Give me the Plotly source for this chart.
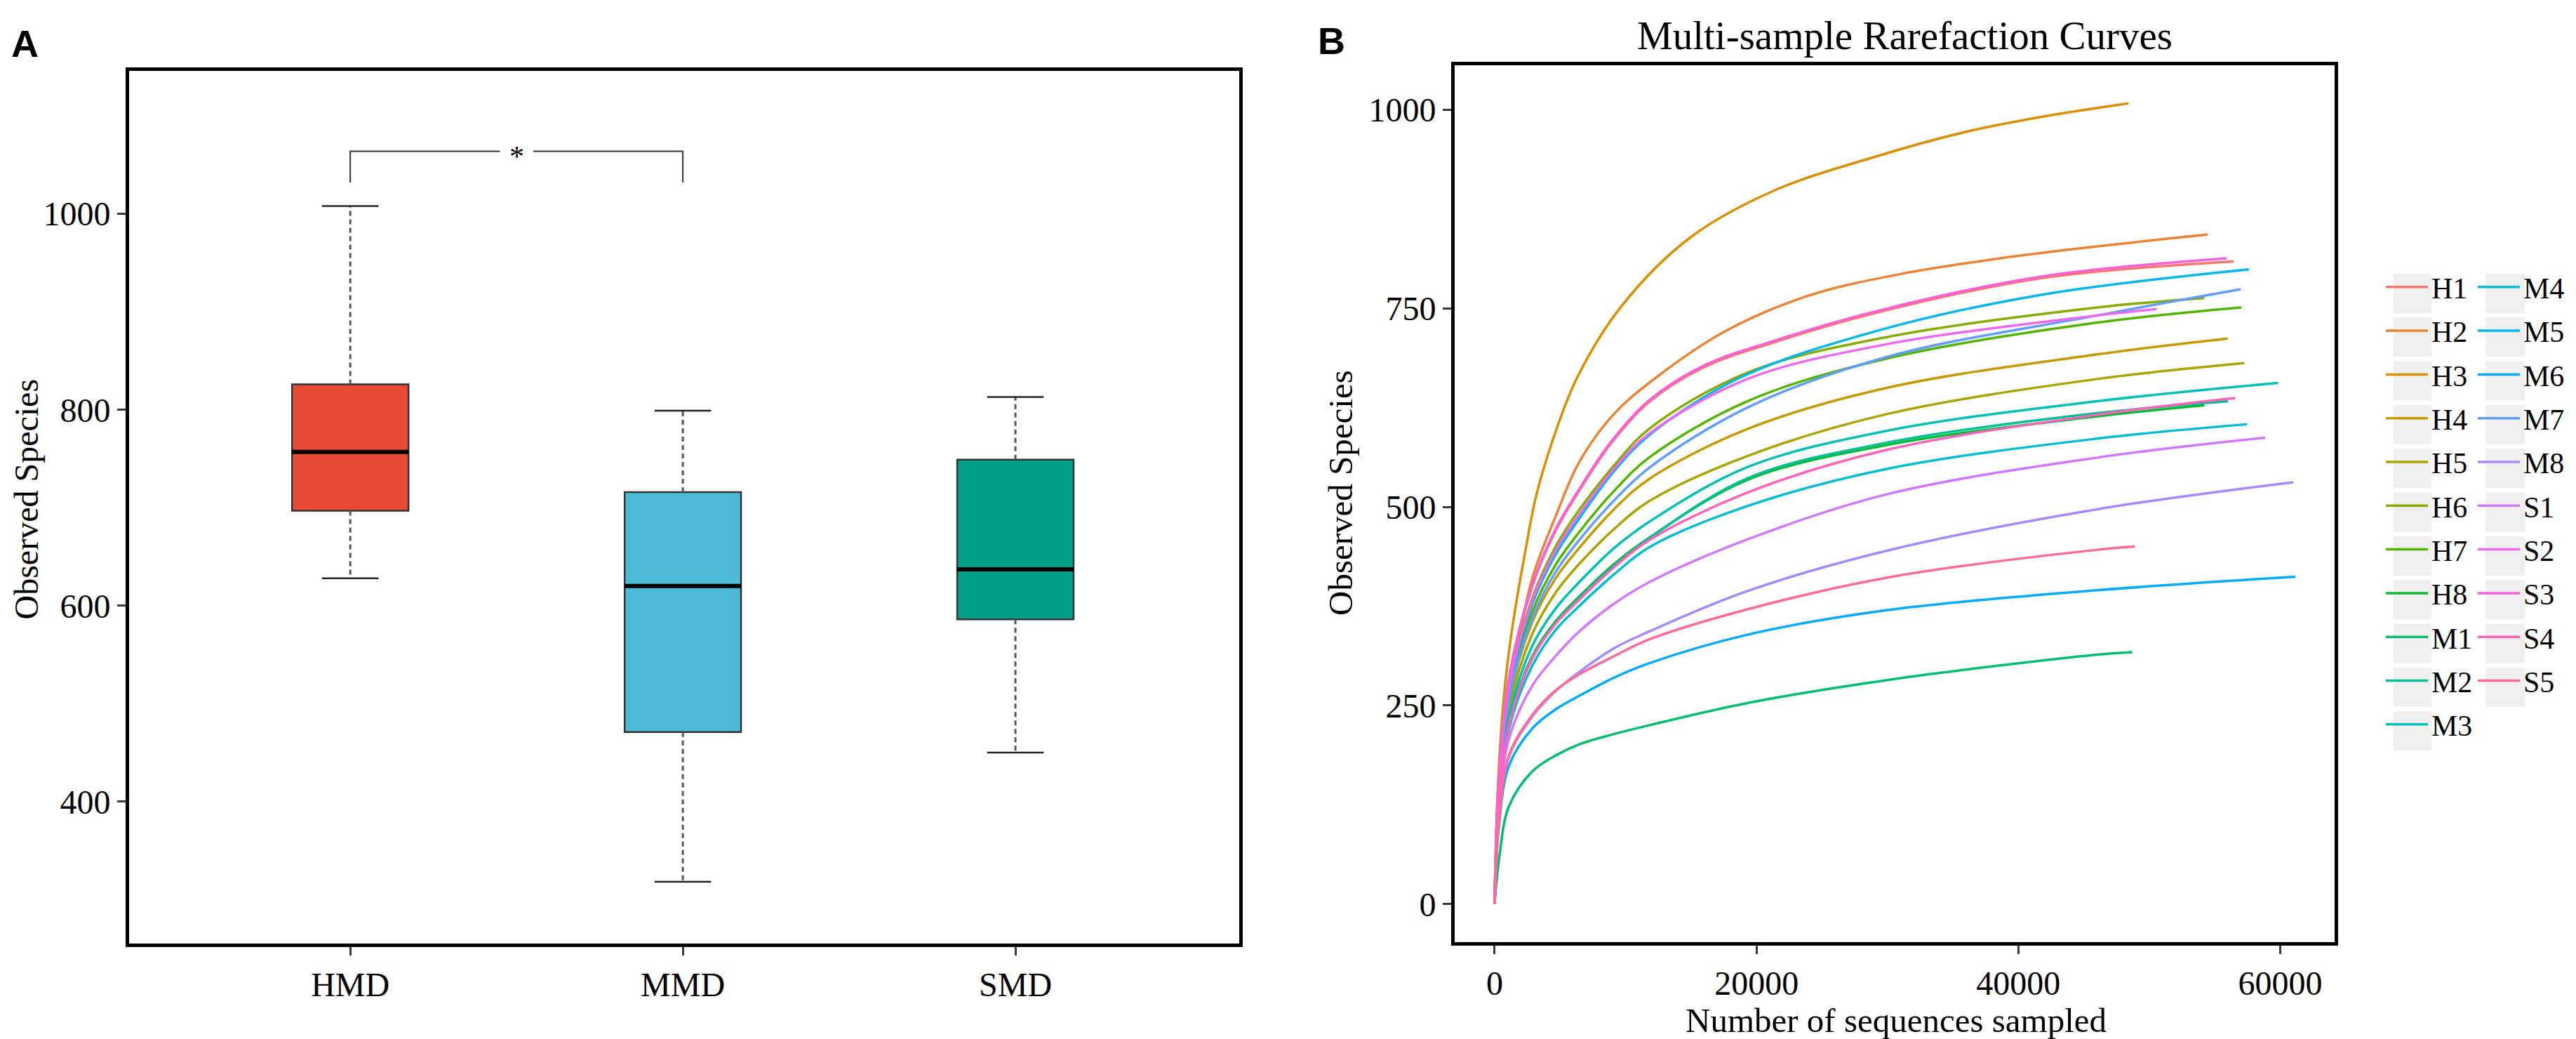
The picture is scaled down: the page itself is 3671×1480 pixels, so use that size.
import math
import plotly.graph_objects as go

# ---------------- Panel A data (box plot summary statistics) ----------------
groups = ["HMD", "MMD", "SMD"]
box_lower = [628, 318, 450]
box_q1 = [697, 471, 586]
box_median = [757, 620, 637]
box_q3 = [826, 716, 749]
box_upper = [1008, 799, 813]
box_colors = ["#E64B35", "#4DBBD5", "#00A087"]
sig_groups = [0, 1]
sig_level = 1064
sig_drop = 1032
sig_label = "*"

# ---------------- Panel B data (rarefaction curves) ----------------
samples = ["H1", "H2", "H3", "H4", "H5", "H6", "H7", "H8",
           "M1", "M2", "M3", "M4", "M5", "M6", "M7", "M8",
           "S1", "S2", "S3", "S4", "S5"]

H1_x = [0, 300, 1096, 2880, 4660, 6450, 8800, 11790, 16000, 21310, 29290, 41745, 56440]
H1_y = [0, 150, 282, 400, 470, 520, 578, 632, 676, 707, 745, 788, 809]
H2_x = [0, 300, 800, 1500, 2877, 4660, 6450, 9120, 12265, 17587, 23972, 30625, 38607, 46016, 54460]
H2_y = [0, 110, 215, 300, 410, 488, 556, 617, 662, 721, 766, 792, 813, 828, 843]
H3_x = [0, 230, 650, 1096, 1631, 2344, 3146, 4417, 6280, 9605, 14927, 21310, 29290, 35945, 41745, 48400]
H3_y = [0, 140, 250, 318, 377, 444, 512, 583, 662, 751, 839, 898, 942, 972, 991, 1008]
H4_x = [0, 300, 1096, 2880, 4660, 6450, 9120, 11790, 19300, 30000, 46016, 55990]
H4_y = [0, 130, 255, 355, 410, 448, 497, 535, 598, 650, 692, 712]
H5_x = [0, 300, 1096, 2880, 4660, 6450, 9120, 11790, 19300, 30000, 46016, 57240]
H5_y = [0, 122, 245, 340, 392, 428, 472, 507, 564, 617, 661, 681]
H6_x = [0, 300, 1096, 2880, 4660, 6450, 9120, 11790, 19300, 30000, 46016, 54210]
H6_y = [0, 140, 275, 385, 450, 496, 552, 598, 669, 714, 751, 763]
H7_x = [0, 300, 1096, 2880, 4660, 6450, 9120, 11790, 19300, 30000, 46016, 57030]
H7_y = [0, 134, 262, 368, 427, 468, 520, 562, 633, 687, 732, 751]
H8_x = [0, 300, 1096, 2880, 4660, 6450, 9120, 11790, 19300, 30000, 46016, 54210]
H8_y = [0, 115, 228, 312, 356, 387, 428, 461, 534, 578, 614, 628]
M1_x = [0, 382, 1096, 2880, 4660, 6450, 9120, 11790, 19300, 30000, 46016, 48690]
M1_y = [0, 62, 123, 167, 187, 201, 214, 225, 253, 282, 314, 317]
M2_x = [0, 300, 1096, 2880, 4660, 6450, 9120, 11790, 19300, 30000, 46016, 56000]
M2_y = [0, 114, 226, 310, 354, 385, 426, 460, 536, 581, 618, 633]
M3_x = [0, 300, 1096, 2880, 4660, 6450, 9120, 11790, 19300, 30000, 46016, 59830]
M3_y = [0, 120, 235, 325, 372, 405, 448, 481, 550, 596, 633, 656]
M4_x = [0, 300, 1096, 2880, 4660, 6450, 9120, 11790, 19300, 30000, 46016, 57460]
M4_y = [0, 112, 220, 300, 345, 375, 415, 449, 501, 548, 586, 604]
M5_x = [0, 300, 1096, 2880, 4660, 6450, 9120, 11790, 18648, 29290, 41745, 57600]
M5_y = [0, 136, 268, 378, 440, 485, 545, 590, 662, 722, 767, 799]
M6_x = [0, 300, 1096, 2880, 4660, 6450, 9120, 11790, 19300, 30000, 46016, 61160]
M6_y = [0, 92, 174, 221, 245, 262, 285, 303, 339, 370, 395, 412]
M7_x = [0, 300, 1096, 2880, 4660, 6450, 9120, 11790, 19300, 30000, 46016, 56980]
M7_y = [0, 130, 258, 360, 418, 458, 508, 549, 625, 689, 741, 774]
M8_x = [0, 300, 1096, 2880, 4660, 6450, 9120, 11790, 19300, 30000, 46016, 60990]
M8_y = [0, 96, 185, 236, 268, 292, 322, 343, 394, 445, 497, 531]
S1_x = [0, 300, 1096, 2880, 4660, 6450, 9120, 11790, 19300, 30000, 46016, 58850]
S1_y = [0, 106, 208, 275, 312, 343, 378, 405, 459, 516, 562, 587]
S2_x = [0, 300, 1096, 2880, 4660, 6450, 9120, 11790, 19300, 30000, 46016, 50560]
S2_y = [0, 138, 272, 382, 445, 490, 548, 592, 661, 705, 741, 749]
S3_x = [0, 300, 1096, 2880, 4660, 6450, 8800, 11790, 16000, 21310, 29290, 41745, 55900]
S3_y = [0, 152, 285, 402, 472, 522, 580, 634, 678, 709, 747, 790, 813]
S4_x = [0, 300, 1096, 2880, 4660, 6450, 9120, 11790, 19300, 30000, 46016, 56560]
S4_y = [0, 114, 225, 309, 353, 383, 424, 458, 518, 572, 616, 637]
S5_x = [0, 300, 1096, 2880, 4660, 6450, 9120, 11790, 19300, 30000, 46016, 48900]
S5_y = [0, 98, 187, 238, 269, 289, 312, 333, 371, 411, 446, 450]

curve_x = [H1_x, H2_x, H3_x, H4_x, H5_x, H6_x, H7_x, H8_x, M1_x, M2_x, M3_x,
           M4_x, M5_x, M6_x, M7_x, M8_x, S1_x, S2_x, S3_x, S4_x, S5_x]
curve_y = [H1_y, H2_y, H3_y, H4_y, H5_y, H6_y, H7_y, H8_y, M1_y, M2_y, M3_y,
           M4_y, M5_y, M6_y, M7_y, M8_y, S1_y, S2_y, S3_y, S4_y, S5_y]
legend1_members = samples[:11]

boxA_yticks = [400, 600, 800, 1000]
curveB_xticks = [0, 20000, 40000, 60000]
curveB_yticks = [0, 250, 500, 750, 1000]


def hcl_hex(h, c=100.0, l=65.0):
    """ggplot2 hue palette colour (polar CIE-LUV -> sRGB, like R's hcl())."""
    hr = math.radians(h)
    U, V = c * math.cos(hr), c * math.sin(hr)
    Xn, Yn, Zn = 95.047, 100.0, 108.883
    den = Xn + 15 * Yn + 3 * Zn
    un, vn = 4 * Xn / den, 9 * Yn / den
    Y = Yn * ((l + 16) / 116) ** 3 if l > 8 else Yn * l / 903.3
    u = U / (13 * l) + un
    v = V / (13 * l) + vn
    X = 9.0 * Y * u / (4 * v)
    Z = -X / 3 - 5 * Y + 3 * Y / v
    X, Y, Z = X / 100, Y / 100, Z / 100
    rgb = [3.240479 * X - 1.537150 * Y - 0.498535 * Z,
           -0.969256 * X + 1.875992 * Y + 0.041556 * Z,
           0.055648 * X - 0.204043 * Y + 1.057311 * Z]
    out = []
    for t in rgb:
        t = 1.055 * t ** (1 / 2.4) - 0.055 if t > 0.00304 else 12.92 * t
        out.append(int(round(min(max(t, 0), 1) * 255)))
    return "#%02X%02X%02X" % tuple(out)


n = len(samples)
palette = [hcl_hex(15 + i * 360.0 / n) for i in range(n)]

W, H = 3671, 1480
SERIF = "Liberation Serif"
SANS = "Liberation Sans"


def px(x):
    return x / W


def py(y):
    return 1 - y / H


fig = go.Figure()

# ---------- Panel A ----------
cap_half = 0.085
med_half = 0.175
for i, g in enumerate(groups):
    fig.add_trace(go.Box(
        x=[i], q1=[box_q1[i]], median=[box_median[i]], q3=[box_q3[i]],
        lowerfence=[box_q1[i]], upperfence=[box_q3[i]],
        width=0.35, fillcolor=box_colors[i],
        line=dict(color="#333333", width=2.5),
        showlegend=False, hoverinfo="skip", xaxis="x", yaxis="y", name=g))
    fig.add_trace(go.Scatter(
        x=[i, i, None, i, i],
        y=[box_q3[i], box_upper[i], None, box_q1[i], box_lower[i]],
        mode="lines", line=dict(color="#555555", width=3, dash="7px,5px"),
        showlegend=False, hoverinfo="skip", xaxis="x", yaxis="y"))
    fig.add_trace(go.Scatter(
        x=[i - cap_half, i + cap_half, None, i - cap_half, i + cap_half],
        y=[box_upper[i], box_upper[i], None, box_lower[i], box_lower[i]],
        mode="lines", line=dict(color="#222222", width=2.5),
        showlegend=False, hoverinfo="skip", xaxis="x", yaxis="y"))
    fig.add_trace(go.Scatter(
        x=[i - med_half, i + med_half], y=[box_median[i], box_median[i]],
        mode="lines", line=dict(color="#000000", width=6),
        showlegend=False, hoverinfo="skip", xaxis="x", yaxis="y"))

a, b = sig_groups
mid = (a + b) / 2
fig.add_trace(go.Scatter(
    x=[a, a, mid - 0.05, None, mid + 0.05, b, b],
    y=[sig_drop, sig_level, sig_level, None, sig_level, sig_level, sig_drop],
    mode="lines", line=dict(color="#333333", width=2),
    showlegend=False, hoverinfo="skip", xaxis="x", yaxis="y"))

# ---------- Panel B ----------
for i, name in enumerate(samples):
    fig.add_trace(go.Scatter(
        x=curve_x[i], y=curve_y[i], mode="lines", name=name,
        line=dict(color=palette[i], width=3.5, shape="spline", smoothing=1.0),
        xaxis="x2", yaxis="y2", legendgroup=name,
        legend="legend" if name in legend1_members else "legend2"))

axis_common = dict(showline=True, mirror=True, linewidth=5, linecolor="black",
                   ticks="outside", ticklen=12, tickwidth=3, tickcolor="#3a3a3a",
                   showgrid=False, zeroline=False,
                   tickfont=dict(family=SERIF, size=48, color="black"))

legend_common = dict(xanchor="left", yanchor="top",
                     font=dict(family=SERIF, size=42, color="black"),
                     bgcolor="rgba(0,0,0,0)", itemwidth=60, tracegroupgap=4.7,
                     traceorder="grouped")

fig.update_layout(
    width=W, height=H,
    margin=dict(l=0, r=0, t=0, b=0),
    paper_bgcolor="white", plot_bgcolor="white",
    boxmode="overlay",
    xaxis=dict(domain=[px(176), px(1758)], range=[-0.665, 2.673],
               tickvals=list(range(len(groups))), ticktext=groups, anchor="y",
               **axis_common),
    yaxis=dict(domain=[py(1336), py(93)], range=[255, 1146],
               tickvals=boxA_yticks, anchor="x", **axis_common),
    xaxis2=dict(domain=[px(2065), px(3319)], range=[-3050, 64150],
                tickvals=curveB_xticks, tickformat="d", anchor="y2",
                **axis_common),
    yaxis2=dict(domain=[py(1334), py(85)], range=[-48, 1056],
                tickvals=curveB_yticks, anchor="x2", **axis_common),
    legend=dict(x=px(3387), y=py(367), **legend_common),
    legend2=dict(x=px(3518), y=py(367), **legend_common),
)

annotations = [
    dict(text="<b>A</b>", x=px(6), y=py(22), xanchor="left", yanchor="top",
         font=dict(family=SANS, size=54, color="black")),
    dict(text="<b>B</b>", x=px(1868), y=py(18), xanchor="left", yanchor="top",
         font=dict(family=SANS, size=54, color="black")),
    dict(text="Multi-sample Rarefaction Curves", x=px(2706), y=py(42),
         xanchor="center", yanchor="middle",
         font=dict(family=SERIF, size=57, color="black")),
    dict(text="Observed Species", x=px(0), y=py(703), textangle=-90,
         xanchor="left", yanchor="middle",
         font=dict(family=SERIF, size=48, color="black")),
    dict(text="Observed Species", x=px(1902), y=py(694), textangle=-90,
         xanchor="center", yanchor="middle",
         font=dict(family=SERIF, size=49, color="black")),
    dict(text="Number of sequences sampled", x=px(2694), y=py(1445),
         xanchor="center", yanchor="middle",
         font=dict(family=SERIF, size=49, color="black")),
    dict(text=sig_label, x=mid, y=sig_level, xref="x", yref="y",
         xanchor="center", yanchor="middle", yshift=-8,
         font=dict(family=SERIF, size=42, color="black")),
]
for ann in annotations:
    ann.setdefault("xref", "paper")
    ann.setdefault("yref", "paper")
    ann["showarrow"] = False
fig.update_layout(annotations=annotations)

# light grey legend key backgrounds (ggplot style)
shapes = []
col_x = [(3403, 3457), (3534, 3590)]
rows = [len(legend1_members), len(samples) - len(legend1_members)]
for c in range(2):
    for r in range(rows[c]):
        top = 382 + 62.3 * r
        shapes.append(dict(type="rect", xref="paper", yref="paper",
                           x0=px(col_x[c][0]), x1=px(col_x[c][1]),
                           y0=py(top + 56), y1=py(top),
                           fillcolor="#EFEFEF", line=dict(width=0), layer="below"))
fig.update_layout(shapes=shapes)

fig.write_html("out.html")
